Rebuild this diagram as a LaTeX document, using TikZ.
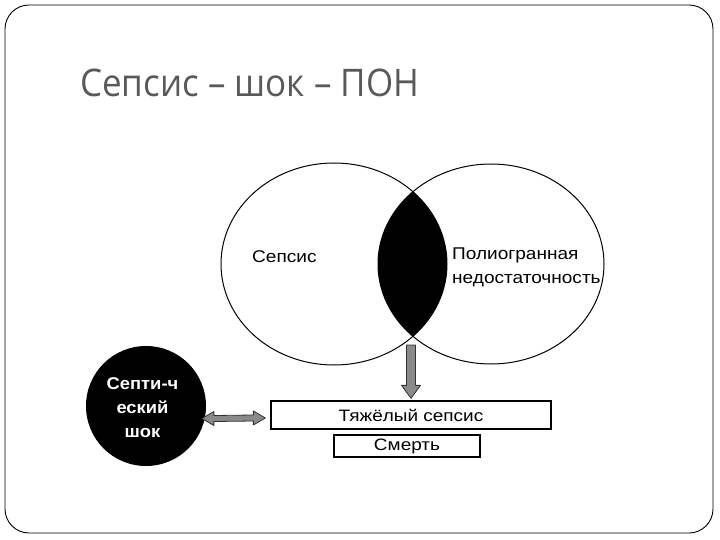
\documentclass[tikz,border=0pt]{standalone}
\usepackage{fontspec}
\setmainfont{Liberation Sans}
\newfontfamily\titlefont{Open Sans}
\usetikzlibrary{shapes.geometric,calc}
\definecolor{titlegray}{HTML}{595959}
\definecolor{arrowgray}{HTML}{8A8A8A}
\begin{document}
\begin{tikzpicture}[x=1pt,y=-1pt,
  venn/.style={ellipse, draw, line width=1pt, inner sep=0pt},
  lbl/.style={font=\fontsize{17}{24}\selectfont, xscale=1.12, inner sep=0pt},
  boxnode/.style={draw, line width=1.3pt, inner sep=0pt, font=\fontsize{16.5}{20}\selectfont},
  boxtext/.style={xscale=1.15, inner sep=0pt},
  fatarrow/.style={fill=arrowgray, draw=black!80, line width=0.8pt, line join=round}
]
\useasboundingbox (0,0) rectangle (720,540);
\draw[line width=0.9pt, rounded corners=24pt] (5,5) rectangle (713,533);
\node[anchor=base west, inner sep=0pt, xscale=0.92, text=titlegray, font=\titlefont\fontsize{38}{40}\selectfont] (title) at (80,97) {Сепсис – шок – ПОН};
% Venn ellipses
\node[venn, minimum width=226pt, minimum height=202pt] (sep) at (334,264) {};
\node[venn, minimum width=226pt, minimum height=200pt] (pon) at (491,264) {};
\begin{scope}
  \clip (sep.center) ellipse [x radius=113, y radius=101];
  \fill (pon.center) ellipse [x radius=113, y radius=100];
\end{scope}
\node[lbl, anchor=base west] (tsep) at (252,262) {Сепсис};
\node[lbl, anchor=west, align=left] (tpon) at (452,267) {Полиогранная\\недостаточность};
% boxes
\node[boxnode, minimum width=280pt, minimum height=28pt] (heavy) at (411,415) {};
\node[boxtext, font=\fontsize{16.5}{20}\selectfont] (theavy) at (heavy.center) {Тяжёлый сепсис};
\node[boxnode, minimum width=146pt, minimum height=22pt] (death) at (407,446) {};
\node[boxtext, font=\fontsize{16.5}{20}\selectfont] (tdeath) at (death.center) {Смерть};
% septic shock
\node[circle, fill=black, minimum size=120pt, inner sep=0pt] (shock) at (146,406) {};
\node[text=white, align=center, inner sep=0pt, xscale=1.08, font=\bfseries\fontsize{17}{24}\selectfont] (tshock) at (142.5,407.5) {Септи-ч\\еский\\шок};
% down arrow
\coordinate (lensbot) at (411,345);
\draw[fatarrow] ($(lensbot)+(-4.5,0)$) -- ($(heavy.north)+(-4.5,-15)$) -- ($(heavy.north)+(-9.5,-15)$) -- ($(heavy.north)+(0,-2)$) -- ($(heavy.north)+(9.5,-15)$) -- ($(heavy.north)+(4.5,-15)$) -- ($(lensbot)+(4.5,0)$) -- cycle;
% double arrow
\coordinate (dal) at ($(shock.-12)+(-3,0)$);
\coordinate (dar) at ($(heavy.west)+(-5,3)$);
\draw[fatarrow] (dal) -- ($(dal)+(12,-7)$) -- ($(dal)+(12,-3)$) -- ($(dar)+(-12,-3)$) -- ($(dar)+(-12,-7)$) -- (dar) -- ($(dar)+(-12,7)$) -- ($(dar)+(-12,3)$) -- ($(dal)+(12,3)$) -- ($(dal)+(12,7)$) -- cycle;
\end{tikzpicture}
\end{document}
